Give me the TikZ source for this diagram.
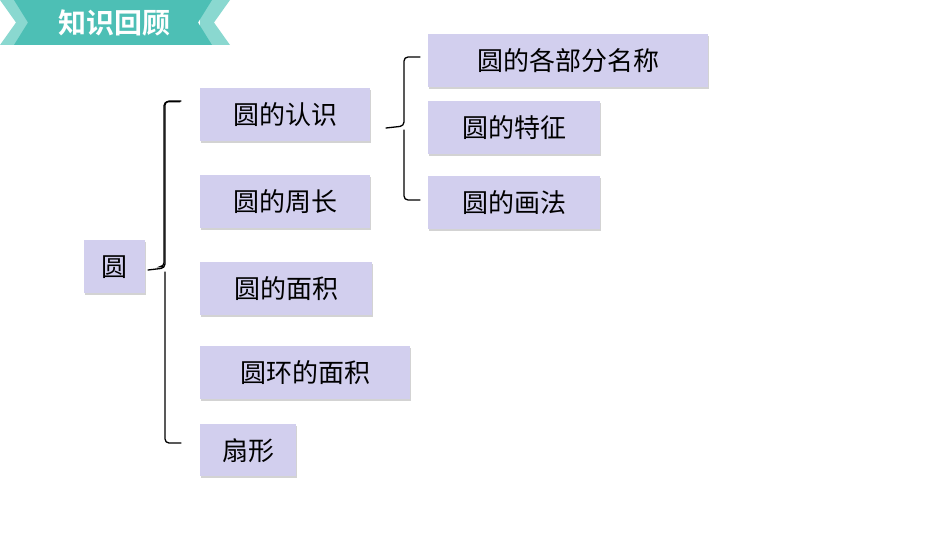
\documentclass[tikz,border=0pt]{standalone}
\usepackage{fontspec}
\newfontfamily\cjk{Noto Sans CJK SC}
\newfontfamily\cjkb{Noto Sans CJK SC Bold}
\usetikzlibrary{shadows}
\definecolor{boxc}{HTML}{D2CFEE}
\definecolor{tealc}{HTML}{4DBFB5}
\definecolor{tealL}{HTML}{8AD8D0}
\tikzset{item/.style={fill=boxc,anchor=north west,inner sep=0pt,font=\cjk\fontsize{26}{28}\selectfont,drop shadow={shadow xshift=1pt,shadow yshift=-2pt,opacity=0.35}},
br/.style={draw=black,line width=1.3pt,line cap=round,rounded corners=4pt}}
\begin{document}
\begin{tikzpicture}[x=1pt,y=-1pt]
\useasboundingbox (0,0) rectangle (950,535);
% banner
\fill[tealL] (0,0) -- (32,0) -- (32,45) -- (0,45) -- (16,22.5) -- cycle;
\fill[tealL] (200,0) -- (230,0) -- (214,22.5) -- (230,45) -- (200,45) -- cycle;
\fill[tealc] (14,0) -- (212,0) -- (198,22.5) -- (212,45) -- (14,45) -- (28,22.5) -- cycle;
\node[text=white,font=\cjkb\fontsize{28}{30}\selectfont] (title) at (114,23) {知识回顾};
% boxes
\node[item,minimum width=61pt,minimum height=53pt] (r) at (84,240) {圆};
\node[item,minimum width=170pt,minimum height=53pt] (a) at (200,88) {圆的认识};
\node[item,minimum width=170pt,minimum height=53pt] (b) at (200,175) {圆的周长};
\node[item,minimum width=172pt,minimum height=53pt] (c) at (200,262) {圆的面积};
\node[item,minimum width=210pt,minimum height=53pt] (d) at (200,346) {圆环的面积};
\node[item,minimum width=96pt,minimum height=52pt] (e) at (200,424) {扇形};
\node[item,minimum width=280pt,minimum height=53pt] (a1) at (428,34) {圆的各部分名称};
\node[item,minimum width=172pt,minimum height=53pt] (a2) at (428,101) {圆的特征};
\node[item,minimum width=172pt,minimum height=53pt] (a3) at (428,176) {圆的画法};
% braces
\draw[br] (a.west)++(-20,-13) coordinate (t1) -- ++(-16,0) |- (r.east -| 163,270);
\draw[br] (181,101) -- (165,101) -- (165,268) -- (148,270);
\draw[br] (165,272) -- (165,443) -- (181,443);
\draw[br] (420,57) -- (404,57) -- (404,126) -- (386,128);
\draw[br] (404,130) -- (404,200) -- (420,200);
\end{tikzpicture}
\end{document}
